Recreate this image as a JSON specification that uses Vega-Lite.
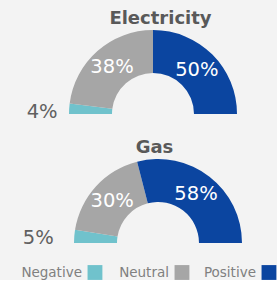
{
  "$schema": "https://vega.github.io/schema/vega-lite/v6.json",
  "background": "#f3f3f3",
  "padding": {"left": 0, "top": 10, "right": 0, "bottom": 0},
  "spacing": 17,
  "config": {
    "view": {"stroke": null},
    "font": "DejaVu Sans",
    "title": {"fontSize": 18, "fontWeight": "bold", "color": "#595959", "offset": 2}
  },
  "datasets": {
    "gauge": [
      {"meter": "Electricity", "response": "Negative", "pct": 0.04, "share": 4},
      {"meter": "Electricity", "response": "Neutral", "pct": 0.38, "share": 46},
      {"meter": "Electricity", "response": "Positive", "pct": 0.50, "share": 50},
      {"meter": "Gas", "response": "Negative", "pct": 0.05, "share": 5},
      {"meter": "Gas", "response": "Neutral", "pct": 0.30, "share": 37},
      {"meter": "Gas", "response": "Positive", "pct": 0.58, "share": 58}
    ]
  },
  "vconcat": [
    {
      "title": {"text": "Electricity", "dx": 22},
      "width": 277,
      "height": 84,
      "data": {"name": "gauge"},
      "transform": [{"filter": "datum.meter === 'Electricity'"}],
      "encoding": {
        "x": {"datum": 0, "type": "quantitative", "scale": {"domain": [-153, 124]}, "axis": null},
        "y": {"datum": 0, "type": "quantitative", "scale": {"domain": [0, 1]}, "axis": null},
        "theta": {"field": "share", "type": "quantitative", "stack": true, "scale": {"domain": [0, 100], "range": [-1.5707963, 1.5707963]}},
        "order": {"field": "response", "sort": "ascending"},
        "detail": {"field": "response"}
      },
      "layer": [
        {
          "mark": {"type": "arc", "radius": 84, "radius2": 41},
          "encoding": {
            "color": {"field": "response", "type": "nominal", "scale": {"domain": ["Negative", "Neutral", "Positive"], "range": ["#70c2cc", "#a6a6a6", "#0b45a0"]}, "legend": null}
          }
        },
        {
          "mark": {"type": "text", "radius": 62, "fontSize": 19.5, "color": "white", "align": "center", "baseline": "middle"},
          "encoding": {
            "text": {"field": "pct", "type": "quantitative", "format": ".0%"},
            "opacity": {"condition": {"test": "datum.response === 'Negative'", "value": 0}, "value": 1}
          }
        },
        {
          "mark": {"type": "text", "radius": 84, "dx": -27, "dy": 3, "fontSize": 19.5, "color": "#606060", "align": "center", "baseline": "middle"},
          "encoding": {
            "text": {"field": "pct", "type": "quantitative", "format": ".0%"},
            "opacity": {"condition": {"test": "datum.response === 'Negative'", "value": 1}, "value": 0}
          }
        }
      ]
    },
    {
      "title": {"text": "Gas", "dx": 16},
      "width": 277,
      "height": 84,
      "data": {"name": "gauge"},
      "transform": [{"filter": "datum.meter === 'Gas'"}],
      "encoding": {
        "x": {"datum": 0, "type": "quantitative", "scale": {"domain": [-158, 119]}, "axis": null},
        "y": {"datum": 0, "type": "quantitative", "scale": {"domain": [0, 1]}, "axis": null},
        "theta": {"field": "share", "type": "quantitative", "stack": true, "scale": {"domain": [0, 100], "range": [-1.5707963, 1.5707963]}},
        "order": {"field": "response", "sort": "ascending"},
        "detail": {"field": "response"}
      },
      "layer": [
        {
          "mark": {"type": "arc", "radius": 84, "radius2": 41},
          "encoding": {
            "color": {"field": "response", "type": "nominal", "scale": {"domain": ["Negative", "Neutral", "Positive"], "range": ["#70c2cc", "#a6a6a6", "#0b45a0"]}, "legend": null}
          }
        },
        {
          "mark": {"type": "text", "radius": 62, "fontSize": 19.5, "color": "white", "align": "center", "baseline": "middle"},
          "encoding": {
            "text": {"field": "pct", "type": "quantitative", "format": ".0%"},
            "opacity": {"condition": {"test": "datum.response === 'Negative'", "value": 0}, "value": 1}
          }
        },
        {
          "mark": {"type": "text", "radius": 84, "dx": -36, "dy": 2, "fontSize": 19.5, "color": "#606060", "align": "center", "baseline": "middle"},
          "encoding": {
            "text": {"field": "pct", "type": "quantitative", "format": ".0%"},
            "opacity": {"condition": {"test": "datum.response === 'Negative'", "value": 1}, "value": 0}
          }
        }
      ]
    },
    {
      "width": 277,
      "height": 15,
      "data": {"name": "gauge"},
      "transform": [{"filter": "datum.meter === 'Gas'"}],
      "encoding": {
        "x": {"field": "response", "type": "nominal", "scale": {"type": "point", "domain": ["Negative", "Neutral", "Positive"], "padding": 0.592, "align": 0.922}, "axis": null}
      },
      "layer": [
        {
          "mark": {"type": "point", "shape": "square", "filled": true, "size": 220, "opacity": 1},
          "encoding": {
            "color": {"field": "response", "type": "nominal", "scale": {"domain": ["Negative", "Neutral", "Positive"], "range": ["#70c2cc", "#a6a6a6", "#0b45a0"]}, "legend": null}
          }
        },
        {
          "mark": {"type": "text", "align": "right", "baseline": "middle", "dx": -13, "fontSize": 13.5, "color": "#808080"},
          "encoding": {"text": {"field": "response"}}
        }
      ]
    }
  ]
}
